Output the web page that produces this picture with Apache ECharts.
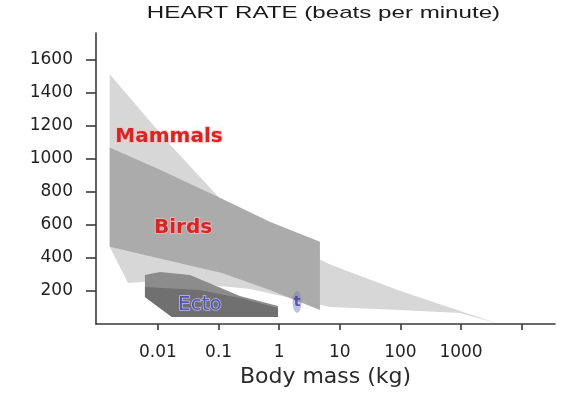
<!DOCTYPE html>
<html><head><meta charset="utf-8">
<script src="https://cdn.jsdelivr.net/npm/echarts@6/dist/echarts.min.js"></script>
<style>html,body{margin:0;padding:0;background:#fff}#c{width:566px;height:405px}</style>
</head><body><div id="c"></div>
<script>
// Body mass (kg) and heart rate (beats per minute) outlines
const mammalsMass = [0.0016, 0.0146, 0.132, 0.70, 6.9, 100, 3900, 960, 100, 6.9, 2.2, 0.33, 0.049, 0.0108, 0.0032, 0.0016];
const mammalsRate = [1510, 1100, 720, 545, 360, 200, 5, 67, 85, 103, 145, 212, 242, 261, 248, 467];
const birdsMass = [0.0016, 0.0108, 0.105, 0.70, 4.7, 4.7, 0.70, 0.114, 0.0131, 0.0016];
const birdsRate = [1067, 933, 764, 618, 497, 85, 206, 309, 388, 467];
const ectoMass = [0.0061, 0.0108, 0.0337, 0.225, 0.955, 0.955, 0.017, 0.0061];
const ectoRate = [297, 315, 297, 170, 109, 42, 42, 164];
const ectoCoreMass = [0.0061, 0.049, 0.225, 0.955, 0.955, 0.017, 0.0061];
const ectoCoreRate = [224, 206, 158, 97, 42, 42, 164];
const turtleMass = [1.97];
const turtleRate = [133];
const labelNames = ['Mammals', 'Birds', 'Ecto'];
const labelMass = [0.0152, 0.0259, 0.0493];
const labelRate = [1133, 582, 115];
const yTicks = [200, 400, 600, 800, 1000, 1200, 1400, 1600];
const xTicks = [0.01, 0.1, 1, 10, 100, 1000, 10000];
const xTickLabels = ['0.01', '0.1', '1', '10', '100', '1000', ''];
const titleText = 'HEART RATE (beats per minute)';
const xAxisTitle = 'Body mass (kg)';

const labelStyles = {
  'Mammals': {fill: '#d42626', fontWeight: 'bold', fontSize: 20, stroke: 'rgba(255,185,185,0.7)', lineWidth: 2},
  'Birds': {fill: '#d42626', fontWeight: 'bold', fontSize: 20, stroke: 'rgba(255,185,185,0.7)', lineWidth: 2},
  'Ecto': {fill: '#5252b4', fontWeight: 'normal', fontSize: 20, stroke: 'rgba(215,215,255,0.8)', lineWidth: 1.5}
};

function polygonSeries(name, mass, rate, color, z) {
  return {
    type: 'custom', name: name, coordinateSystem: 'cartesian2d', z: z, silent: true, clip: false,
    data: mass.map((m, i) => [m, rate[i]]),
    renderItem: function (params, api) {
      if (params.dataIndexInside !== 0) return null;
      const pts = [];
      for (let i = 0; i < params.dataInsideLength; i++) {
        pts.push(api.coord([api.value(0, i), api.value(1, i)]));
      }
      return {type: 'polygon', shape: {points: pts}, style: {fill: color}};
    }
  };
}

const axisColor = '#3a3a3a';
const font = '"DejaVu Sans", sans-serif';
const chart = echarts.init(document.getElementById('c'), null, {renderer: 'canvas'});
chart.setOption({
  animation: false,
  backgroundColor: '#fff',
  grid: {left: 96, right: 11, top: 33, bottom: 81, containLabel: false, outerBoundsMode: 'none'},
  graphic: [{
    type: 'text', x: 323.5, y: 5, scaleX: 1.42, scaleY: 1,
    style: {text: titleText, fill: '#1a1a1a', fontSize: 17, fontFamily: '"Liberation Sans", Arial, sans-serif', align: 'center', verticalAlign: 'top'}
  }],
  xAxis: {
    type: 'log', logBase: 10, min: 0.00095, max: 35500,
    axisLine: {show: true, onZero: false, lineStyle: {color: axisColor, width: 1.6}},
    axisTick: {show: true, inside: false, length: 6, customValues: xTicks, lineStyle: {color: axisColor, width: 1.6}},
    minorTick: {show: false},
    axisLabel: {
      customValues: xTicks, margin: 20, fontSize: 17, fontFamily: font, color: '#222',
      formatter: function (v) {
        const i = xTicks.findIndex(t => Math.abs(Math.log10(t) - Math.log10(v)) < 1e-6);
        return i >= 0 ? xTickLabels[i] : '';
      }
    },
    splitLine: {show: false},
    name: xAxisTitle, nameLocation: 'middle', nameGap: 41,
    nameTextStyle: {fontSize: 22, fontFamily: font, color: '#2a2a2a'}
  },
  yAxis: {
    type: 'value', min: 0, max: 1760,
    axisLine: {show: true, onZero: false, lineStyle: {color: axisColor, width: 1.6}},
    axisTick: {show: true, inside: false, length: 10, customValues: yTicks, lineStyle: {color: axisColor, width: 1.6}},
    axisLabel: {customValues: yTicks, margin: 23, fontSize: 17, fontFamily: font, color: '#222', formatter: v => String(v)},
    splitLine: {show: false}
  },
  series: [
    polygonSeries('Mammals', mammalsMass, mammalsRate, '#d7d7d7', 1),
    polygonSeries('Birds', birdsMass, birdsRate, '#ababab', 2),
    polygonSeries('Ecto', ectoMass, ectoRate, '#8c8c8c', 3),
    polygonSeries('Ecto core', ectoCoreMass, ectoCoreRate, '#707070', 4),
    {
      type: 'scatter', name: 't', z: 5, silent: true,
      data: turtleMass.map((m, i) => [m, turtleRate[i]]),
      symbol: 'circle', symbolSize: [9, 22],
      itemStyle: {color: 'rgba(125,125,180,0.6)'},
      label: {show: true, position: 'inside', formatter: 't', color: '#3c3ca0', fontSize: 14, fontWeight: 'bold', fontFamily: font}
    },
    {
      type: 'custom', name: 'labels', coordinateSystem: 'cartesian2d', z: 6, silent: true, clip: false,
      data: labelMass.map((m, i) => [m, labelRate[i]]),
      renderItem: function (params, api) {
        const p = api.coord([api.value(0), api.value(1)]);
        const name = labelNames[params.dataIndex];
        const s = labelStyles[name];
        return {
          type: 'text', x: p[0], y: p[1],
          style: Object.assign({text: name, fontFamily: font, align: 'center', verticalAlign: 'middle'}, s)
        };
      }
    }
  ]
});
</script>
</body></html>
